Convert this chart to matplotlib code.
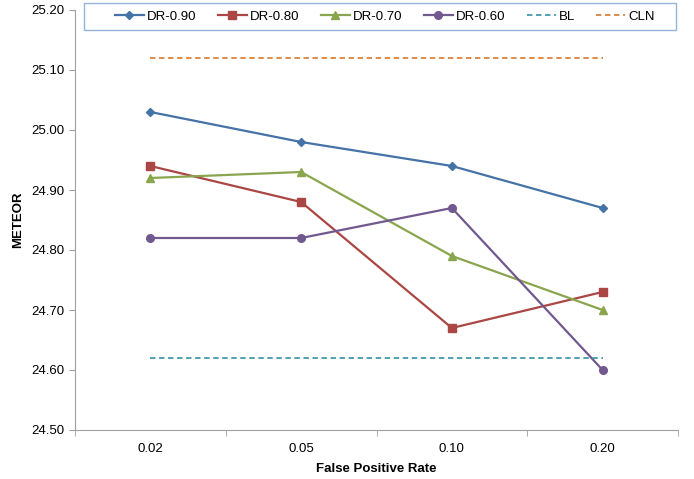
import numpy as np
import matplotlib.pyplot as plt
from matplotlib.patches import Rectangle

categories = ['0.02', '0.05', '0.10', '0.20']
dr_090 = [25.03, 24.98, 24.94, 24.87]
dr_080 = [24.94, 24.88, 24.67, 24.73]
dr_070 = [24.92, 24.93, 24.79, 24.70]
dr_060 = [24.82, 24.82, 24.87, 24.60]
bl = [24.62, 24.62, 24.62, 24.62]
cln = [25.12, 25.12, 25.12, 25.12]
yticks = [24.50, 24.60, 24.70, 24.80, 24.90, 25.00, 25.10, 25.20]

plt.rcParams['font.family'] = ['Liberation Sans', 'DejaVu Sans']

fig = plt.figure(figsize=(6.94, 4.79), dpi=100)
ax = fig.add_axes([75 / 694, 1 - 430 / 479, 603 / 694, 420 / 479])

x = np.arange(len(categories))
ax.plot(x, dr_090, color='#4572A7', marker='D', markersize=4.5, lw=1.6, label='DR-0.90')
ax.plot(x, dr_080, color='#AA4643', marker='s', markersize=5.5, lw=1.6, label='DR-0.80')
ax.plot(x, dr_070, color='#89A54E', marker='^', markersize=6, lw=1.6, label='DR-0.70')
ax.plot(x, dr_060, color='#71588F', marker='o', markersize=5.5, lw=1.6, label='DR-0.60')
ax.plot(x, bl, color='#4198AF', ls=(0, (3, 2)), lw=1.3, label='BL')
ax.plot(x, cln, color='#DB843D', ls=(0, (3, 2)), lw=1.3, label='CLN')

ax.set_xlim(-0.5, len(categories) - 0.5)
ax.set_ylim(24.50, 25.20)
ax.set_yticks(yticks)
ax.set_yticklabels(['%.2f' % v for v in yticks], fontsize=9.5)
ax.set_xticks(x)
ax.set_xticklabels(categories, fontsize=9.5)
ax.tick_params(axis='x', which='major', length=0, pad=9)
ax.set_xticks(np.arange(-0.5, len(categories)), minor=True)
ax.tick_params(axis='x', which='minor', length=4, color='#A0A0A0')
ax.tick_params(axis='y', length=4, color='#A0A0A0')

for side in ['top', 'right']:
    ax.spines[side].set_visible(False)
for side in ['left', 'bottom']:
    ax.spines[side].set_color('#A0A0A0')

ax.set_xlabel('False Positive Rate', fontsize=9.5, fontweight='bold', labelpad=6)
ax.set_ylabel('METEOR', fontsize=9.5, fontweight='bold', labelpad=5)

# legend box like the Excel one
box = Rectangle((84 / 694, 1 - 30 / 479), 592 / 694, 27 / 479, transform=fig.transFigure,
                facecolor='white', edgecolor='#95B3D7', lw=1.0, zorder=5)
fig.patches.append(box)
leg = fig.legend(loc='center', bbox_to_anchor=(385 / 694, 1 - 16.5 / 479),
                 ncol=6, fontsize=9.5, frameon=False,
                 handlelength=2.2, handletextpad=0.25, columnspacing=1.6, borderaxespad=0)
leg.set_zorder(6)

fig.savefig('out.png', dpi=100)
